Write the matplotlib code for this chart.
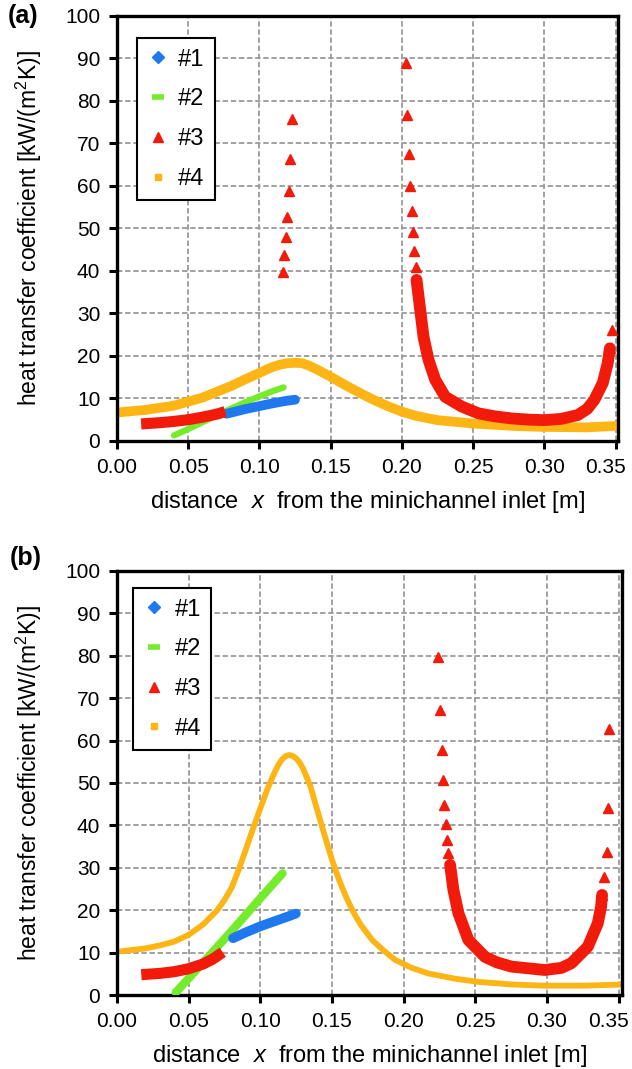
import matplotlib.pyplot as plt
import matplotlib.transforms as mtransforms
from matplotlib.lines import Line2D

plt.rcParams["font.family"] = ["Liberation Sans", "DejaVu Sans"]
plt.rcParams["mathtext.fontset"] = "custom"
plt.rcParams["mathtext.rm"] = "Liberation Sans"
plt.rcParams["mathtext.it"] = "Liberation Sans:italic"

BLUE = "#1F78EE"
GREEN = "#74EC2C"
RED = "#F21A0A"
ORANGE = "#FDB515"

# ---- panel (a) ----
a1_x = [0.077, 0.09, 0.10, 0.11, 0.12, 0.125]
a1_y = [6.4, 7.5, 8.2, 8.9, 9.5, 9.7]
a2_x = [0.040, 0.05, 0.06, 0.07, 0.08, 0.09, 0.10, 0.11, 0.117]
a2_y = [1.3, 2.8, 4.4, 6.0, 7.6, 9.1, 10.5, 11.8, 12.6]
a3_low_x = [0.017, 0.03, 0.04, 0.05, 0.06, 0.07, 0.076]
a3_low_y = [4.0, 4.3, 4.6, 5.0, 5.6, 6.3, 6.9]
a3_sparse_x = [0.1228, 0.1216, 0.1207, 0.1193, 0.1186, 0.1176, 0.1167,
               0.2029, 0.2038, 0.2047, 0.2059, 0.2068, 0.2077, 0.2087, 0.2096, 0.2103,
               0.3473, 0.3461]
a3_sparse_y = [75.7, 66.3, 58.9, 52.8, 48.1, 43.8, 39.8,
               89.0, 76.7, 67.5, 60.1, 54.0, 49.1, 44.8, 41.0, 37.9,
               26.1, 21.8]
a3_curve_x = [0.2103, 0.2129, 0.2152, 0.2187, 0.2234, 0.2304, 0.2420, 0.2537, 0.265,
              0.277, 0.290, 0.300, 0.312, 0.3235, 0.330, 0.335, 0.341, 0.3445, 0.346]
a3_curve_y = [37.9, 30.8, 24.5, 19.1, 14.4, 10.4, 8.1, 6.5, 5.8,
              5.3, 5.0, 4.9, 5.2, 6.1, 7.5, 9.6, 13.6, 18.3, 21.8]
a4_x = [0.0, 0.02, 0.04, 0.06, 0.08, 0.09, 0.10, 0.105, 0.11, 0.115, 0.12, 0.125,
        0.13, 0.135, 0.14, 0.145, 0.15, 0.16, 0.17, 0.18, 0.19, 0.20, 0.21,
        0.225, 0.25, 0.28, 0.30, 0.33, 0.355]
a4_y = [6.7, 7.3, 8.3, 10.2, 12.9, 14.5, 16.0, 16.8, 17.5, 18.0, 18.3, 18.4,
        18.3, 17.7, 16.9, 16.0, 15.1, 13.2, 11.4, 9.7, 8.2, 6.9, 5.9,
        4.9, 4.1, 3.5, 3.3, 3.2, 3.6]

# ---- panel (b) ----
b1_x = [0.081, 0.09, 0.10, 0.11, 0.12, 0.1248]
b1_y = [13.4, 14.8, 16.2, 17.4, 18.6, 19.2]
b2_x = [0.041, 0.06, 0.08, 0.10, 0.1155]
b2_y = [0.6, 7.6, 15.1, 22.8, 28.7]
b3_low_x = [0.017, 0.03, 0.04, 0.05, 0.06, 0.067, 0.0738]
b3_low_y = [4.8, 5.1, 5.5, 6.2, 7.3, 8.5, 10.1]
b3_sparse_x = [0.2243, 0.2255, 0.2264, 0.2273, 0.2283, 0.2292, 0.2303, 0.2312, 0.2324,
               0.3433, 0.3426, 0.3415, 0.3396, 0.3384]
b3_sparse_y = [79.8, 67.1, 57.8, 50.7, 44.8, 40.3, 36.6, 33.4, 30.7,
               62.7, 44.0, 33.8, 27.9, 23.6]
b3_curve_x = [0.2324, 0.2347, 0.2382, 0.2451, 0.2567, 0.265, 0.2752, 0.2984, 0.310,
              0.317, 0.3285, 0.3354, 0.3377, 0.3384]
b3_curve_y = [30.7, 24.8, 19.3, 13.0, 9.0, 7.7, 6.7, 5.9, 6.4,
              7.5, 11.4, 16.9, 20.8, 23.6]
b4_x = [0.003, 0.01, 0.02, 0.03, 0.04, 0.05, 0.06, 0.07, 0.075, 0.08, 0.085, 0.09,
        0.095, 0.10, 0.105, 0.11, 0.1125, 0.115, 0.1175, 0.12, 0.1225, 0.125,
        0.1275, 0.13, 0.135, 0.14, 0.145, 0.15, 0.155, 0.16, 0.165, 0.17, 0.178,
        0.186, 0.194, 0.205, 0.217, 0.235, 0.252, 0.275, 0.298, 0.325, 0.355]
b4_y = [10.3, 10.6, 11.0, 11.7, 12.6, 14.2, 16.6, 20.0, 22.4, 25.3, 29.6, 34.4,
        39.3, 44.0, 48.6, 52.5, 54.2, 55.5, 56.3, 56.6, 56.4, 55.8,
        54.8, 53.3, 49.2, 43.3, 37.5, 31.9, 27.1, 23.0, 19.5, 16.6, 13.0,
        10.5, 8.3, 6.5, 5.1, 3.9, 3.1, 2.5, 2.2, 2.2, 2.5]

labels = ["#1", "#2", "#3", "#4"]
y_ticks = list(range(0, 101, 10))
x_ticks = [0.00, 0.05, 0.10, 0.15, 0.20, 0.25, 0.30, 0.35]


def draw_panel(ax, s1, s2, s3low, s3sp, s3cur, s4, lw4, lw2, leg_xy):
    ax.plot(*s4, color=ORANGE, lw=lw4, solid_capstyle="round", solid_joinstyle="round", zorder=2)
    ax.plot(*s2, color=GREEN, lw=lw2, solid_capstyle="round", zorder=3)
    ax.plot(*s1, color=BLUE, lw=7, solid_capstyle="round", zorder=4)
    ax.plot(*s3low, color=RED, lw=8, solid_capstyle="butt", zorder=5)
    ax.plot(*s3cur, color=RED, lw=8.5, solid_capstyle="round", solid_joinstyle="round", zorder=5)
    ax.plot(*s3sp, ls="none", marker="^", ms=7.5, color=RED, zorder=5)

    ax.set_xlim(0, 0.352)
    ax.set_ylim(0, 100)
    ax.set_xticks(x_ticks)
    ax.set_xticklabels([f"{t:.2f}" for t in x_ticks])
    ax.set_yticks(y_ticks)
    ax.grid(True, color="#9a9a9a", ls=(0, (3, 1.5)), lw=1.3)
    ax.set_axisbelow(True)
    for sp in ax.spines.values():
        sp.set_linewidth(2.4)
        sp.set_color("black")
    ax.tick_params(direction="out", length=6, width=2.2, labelsize=15, pad=6,
                   top=False, right=False)
    ax.set_ylabel("heat transfer coefficient [kW/(m$^2$K)]", fontsize=16.5, labelpad=15)
    ax.set_xlabel("distance  $x$  from the minichannel inlet [m]", fontsize=17, labelpad=9)

    # last tick label sits a little inside the figure edge
    last = ax.get_xticklabels()[-1]
    last.set_transform(last.get_transform() + mtransforms.ScaledTranslation(
        -10 / 100, 0, ax.figure.dpi_scale_trans))

    handles = [
        Line2D([], [], ls="none", marker="D", ms=6.5, color=BLUE),
        Line2D([], [], ls="none", marker="_", ms=9, mew=4, color=GREEN),
        Line2D([], [], ls="none", marker="^", ms=7.5, color=RED),
        Line2D([], [], ls="none", marker="s", ms=4, color=ORANGE),
    ]
    leg = ax.legend(handles, labels, loc="upper left", bbox_to_anchor=leg_xy,
                    fontsize=17, frameon=True, fancybox=False, framealpha=1,
                    edgecolor="black", labelspacing=0.75, handlelength=0.9,
                    handletextpad=0.4, borderpad=0.45, borderaxespad=0)
    leg.get_frame().set_linewidth(1.5)


fig = plt.figure(figsize=(6.32, 10.69), dpi=100)
ax_a = fig.add_axes([0.185, 0.5875, 0.7935, 0.3976])
ax_b = fig.add_axes([0.185, 0.0692, 0.7985, 0.3967])

draw_panel(ax_a, (a1_x, a1_y), (a2_x, a2_y), (a3_low_x, a3_low_y),
           (a3_sparse_x, a3_sparse_y), (a3_curve_x, a3_curve_y), (a4_x, a4_y),
           7, 4.5, (0.04, 0.948))
draw_panel(ax_b, (b1_x, b1_y), (b2_x, b2_y), (b3_low_x, b3_low_y),
           (b3_sparse_x, b3_sparse_y), (b3_curve_x, b3_curve_y), (b4_x, b4_y),
           4.2, 6, (0.032, 0.96))

fig.text(8 / 632, 1 - 4 / 1069, "(a)", fontsize=18, fontweight="bold", va="top", ha="left")
fig.text(10 / 632, 1 - 546 / 1069, "(b)", fontsize=18, fontweight="bold", va="top", ha="left")

fig.savefig("out.png", dpi=100)
